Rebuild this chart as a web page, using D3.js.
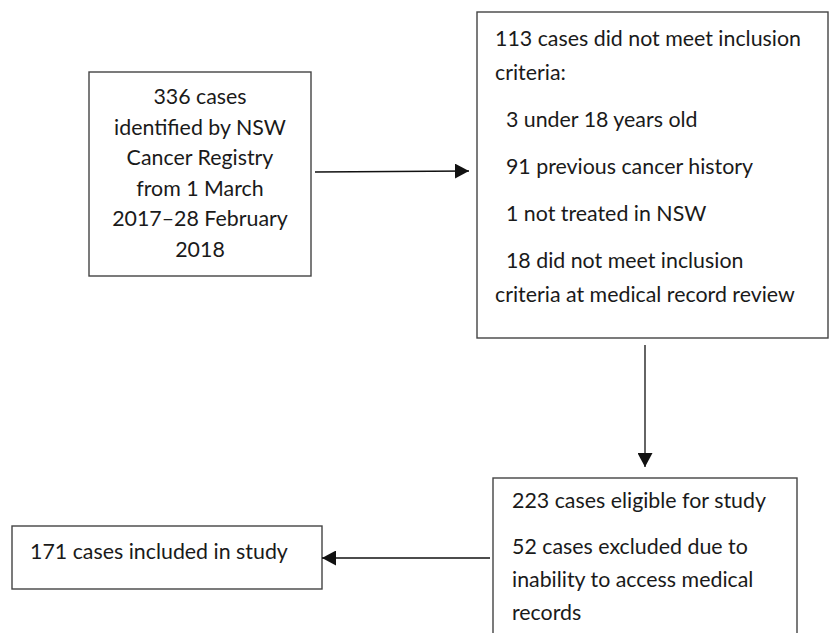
<!DOCTYPE html>
<html>
<head>
<meta charset="utf-8">
<script src="https://cdn.jsdelivr.net/npm/d3@7"></script>
<style>
  body { margin: 0; background: #fff; }
  svg { display: block; }
  text { font-family: Lato, "Open Sans", sans-serif; fill: #1a1a1a; white-space: pre; }
</style>
</head>
<body>
<script>
// Testo dei riquadri (un array per riquadro, un sotto-array per paragrafo)
const sourceLines = ["336 cases", "identified by NSW", "Cancer Registry", "from 1 March", "2017\u201328 February", "2018"];
const excludedParas = [
  ["113 cases did not meet inclusion", "criteria:"],
  ["  3 under 18 years old"],
  ["  91 previous cancer history"],
  ["  1 not treated in NSW"],
  ["  18 did not meet inclusion", "criteria at medical record review"]
];
const eligibleParas = [
  ["223 cases eligible for study"],
  ["52 cases excluded due to", "inability to access medical", "records"]
];
const includedParas = [["171 cases included in study"]];

var W = 829, H = 633;
var svg = d3.select("body").append("svg")
  .attr("width", W)
  .attr("height", H);

// misuro il font per farlo stare nella larghezza della riga più lunga
var probe = svg.append("text").attr("font-size", 20).text(excludedParas[0][0]);
var fontSize = 20 * 306 / probe.node().getComputedTextLength();
probe.remove();

// Riquadri: posizione e allineamento del testo
var boxes = [
  { x: 89, y: 72, w: 222, h: 204, align: "middle", first: 104, lines: sourceLines.map(d => [d]), wrap: 30.5, para: 30.5 },
  { x: 477, y: 12, w: 351, h: 326, align: "start", pad: 18, first: 46, lines: excludedParas, wrap: 34, para: 47 },
  { x: 493, y: 478, w: 304, h: 180, align: "start", pad: 19, first: 508, lines: eligibleParas, wrap: 33, para: 46 },
  { x: 12, y: 526, w: 310, h: 63, align: "start", pad: 18, first: 559, lines: includedParas, wrap: 33, para: 46 }
];

boxes.forEach(b => {
  svg.append("rect")
    .attr("x", b.x).attr("y", b.y)
    .attr("width", b.w).attr("height", b.h)
    .attr("fill", "none")
    .attr("stroke", "#444")
    .attr("stroke-width", 1.4);

  var y = b.first;
  var tx = b.align === "middle" ? b.x + b.w / 2 : b.x + b.pad;
  b.lines.forEach((para, pi) => {
    if (pi > 0) y += b.para;
    para.forEach((line, li) => {
      if (li > 0) y += b.wrap;
      svg.append("text")
        .attr("x", tx)
        .attr("y", y)
        .attr("text-anchor", b.align)
        .attr("font-size", fontSize)
        .text(line);
    });
  });
});

// Frecce
svg.append("defs").append("marker")
  .attr("id", "head")
  .attr("viewBox", "0 0 14 15")
  .attr("refX", 14).attr("refY", 7.5)
  .attr("markerWidth", 14).attr("markerHeight", 15)
  .attr("markerUnits", "userSpaceOnUse")
  .attr("orient", "auto")
  .append("path")
  .attr("d", "M0,0L14,7.5L0,15Z")
  .attr("fill", "#111");

var arrows = [
  [315, 172, 469, 171],
  [645, 345, 645, 467],
  [490, 558, 322, 558]
];
svg.selectAll("line.arrow")
  .data(arrows)
  .join("line")
  .attr("class", "arrow")
  .attr("x1", d => d[0]).attr("y1", d => d[1])
  .attr("x2", d => d[2]).attr("y2", d => d[3])
  .attr("stroke", "#111")
  .attr("stroke-width", 1.3)
  .attr("marker-end", "url(#head)");
</script>
</body>
</html>
